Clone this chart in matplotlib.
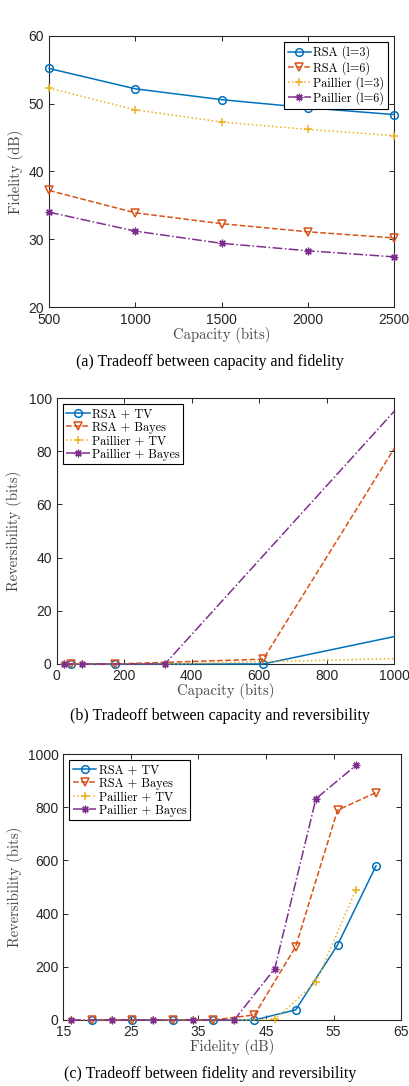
import matplotlib
matplotlib.use('Agg')
import matplotlib.pyplot as plt

# (a) capacity vs fidelity
cap_a = [500, 1000, 1500, 2000, 2500]
rsa_l3 = [55.2, 52.2, 50.6, 49.4, 48.4]
rsa_l6 = [37.2, 33.9, 32.3, 31.1, 30.2]
pail_l3 = [52.3, 49.1, 47.3, 46.2, 45.3]
pail_l6 = [34.0, 31.2, 29.4, 28.3, 27.4]

# (b) capacity vs reversibility (last value is where the line leaves the axes)
rsa_cap_b = [44, 172, 612, 1000]
rsa_tv_b = [0, 0, 0, 10.3]
rsa_bayes_b = [0, 0, 1.8, 81]
pail_cap_b = [22, 76, 321, 1000]
pail_tv_b = [0, 0, 0, 2]
pail_bayes_b = [0, 0, 0, 95]

# (c) fidelity vs reversibility
rsa_fid = [19.3, 25.2, 31.2, 37.2, 43.3, 49.4, 55.6, 61.3]
rsa_tv_c = [0, 0, 0, 0, 0, 38, 282, 580]
rsa_bayes_c = [0, 0, 0, 0, 19, 276, 789, 855]
pail_fid = [16.2, 22.2, 28.2, 34.2, 40.3, 46.3, 52.4, 58.3]
pail_tv_c = [0, 0, 0, 0, 0, 2, 142, 489]
pail_bayes_c = [0, 0, 0, 0, 0, 193, 832, 957]

blue, orange, yellow, purple = '#0072BD', '#D95319', '#EDB120', '#7E2F8E'
star = (8, 2, 0)
styles = [
    dict(color=blue, ls='-', marker='o'),
    dict(color=orange, ls='--', marker='v'),
    dict(color=yellow, ls=':', marker='+'),
    dict(color=purple, ls='-.', marker=star),
]

plt.rcParams['font.family'] = 'Liberation Sans'
axc = '#262626'
lab_font = dict(family='cmr10', size=10.5, color='#444444')

fig = plt.figure(figsize=(4.1, 10.86), dpi=100)


def style_ax(ax, xlim, ylim, xticks, yticks, xpad=3.5):
    ax.set_xlim(xlim)
    ax.set_ylim(ylim)
    ax.set_xticks(xticks)
    ax.set_yticks(yticks)
    ax.tick_params(direction='in', length=3.5, width=0.7, top=True, right=True,
                   labelsize=10, colors=axc)
    ax.tick_params(axis='x', pad=xpad)
    ax.tick_params(axis='y', pad=3.5)
    for s in ax.spines.values():
        s.set_color(axc)
        s.set_linewidth(0.8)


def draw(ax, xs, ys, labels, loc, marks=None):
    for i in range(4):
        st = styles[i]
        kw = {}
        if marks is not None:
            kw['markevery'] = marks[i]
        ax.plot(xs[i], ys[i], color=st['color'], ls=st['ls'], marker=st['marker'],
                lw=1.1, ms=6 if st['marker'] == 'v' else 5.5, mfc='none',
                mew=0.9 if i == 3 else 1.1, label=labels[i], clip_on=False,
                zorder=3 + i, **kw)
    leg = ax.legend(loc=loc, prop=dict(family='cmr10', size=8.8), handlelength=1.9,
                    handletextpad=0.2, borderpad=0.3, labelspacing=0.12,
                    fancybox=False, framealpha=1, borderaxespad=0.5)
    leg.get_frame().set_edgecolor('black')
    leg.get_frame().set_linewidth(0.8)


# panel a
ax1 = fig.add_axes([0.1195, 0.7173, 0.8415, 0.2496])
draw(ax1, [cap_a] * 4, [rsa_l3, rsa_l6, pail_l3, pail_l6],
     ['RSA (l=3)', 'RSA (l=6)', 'Paillier (l=3)', 'Paillier (l=6)'], 'upper right')
style_ax(ax1, (500, 2500), (20, 60), [500, 1000, 1500, 2000, 2500], [20, 30, 40, 50, 60],
         xpad=4.5)
ax1.set_xlabel('Capacity (bits)', labelpad=0, **lab_font)
ax1.set_ylabel('Fidelity (dB)', labelpad=3, **lab_font)

# panel b
ax2 = fig.add_axes([0.138, 0.3886, 0.8234, 0.2449])
m = [0, 1, 2]
draw(ax2, [rsa_cap_b, rsa_cap_b, pail_cap_b, pail_cap_b],
     [rsa_tv_b, rsa_bayes_b, pail_tv_b, pail_bayes_b],
     ['RSA + TV', 'RSA + Bayes', 'Paillier + TV', 'Paillier + Bayes'], 'upper left',
     marks=[m, m, m, m])
style_ax(ax2, (0, 1000), (0, 100), range(0, 1001, 200), range(0, 101, 20))
ax2.set_xlabel('Capacity (bits)', labelpad=0, **lab_font)
ax2.set_ylabel('Reversibility (bits)', labelpad=5, **lab_font)

# panel c
ax3 = fig.add_axes([0.1545, 0.0608, 0.8237, 0.2449])
draw(ax3, [rsa_fid, rsa_fid, pail_fid, pail_fid],
     [rsa_tv_c, rsa_bayes_c, pail_tv_c, pail_bayes_c],
     ['RSA + TV', 'RSA + Bayes', 'Paillier + TV', 'Paillier + Bayes'], 'upper left')
style_ax(ax3, (15, 65), (0, 1000), range(15, 66, 10), range(0, 1001, 200))
ax3.set_xlabel('Fidelity (dB)', labelpad=0, **lab_font)
ax3.set_ylabel('Reversibility (bits)', labelpad=3, **lab_font)

cap_font = dict(family='Liberation Serif', size=11.5, ha='center', va='center')
fig.text(210 / 410, 1 - 362 / 1086, '(a) Tradeoff between capacity and fidelity', **cap_font)
fig.text(220 / 410, 1 - 716 / 1086, '(b) Tradeoff between capacity and reversibility', **cap_font)
fig.text(210 / 410, 1 - 1074 / 1086, '(c) Tradeoff between fidelity and reversibility', **cap_font)

fig.savefig('out.png', dpi=100)
